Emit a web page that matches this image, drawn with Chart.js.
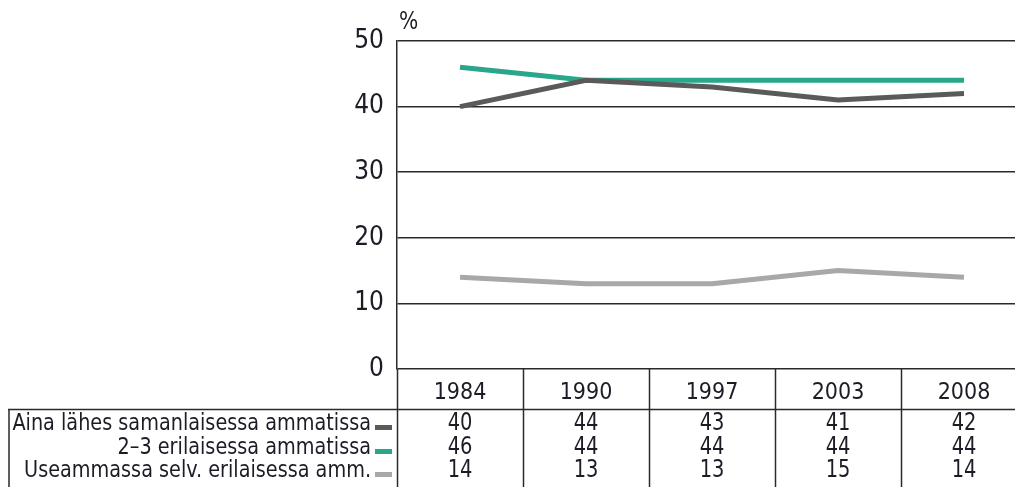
<!DOCTYPE html>
<html>
<head>
<meta charset="utf-8">
<script src="https://cdn.jsdelivr.net/npm/chart.js@4.4.0/dist/chart.umd.min.js"></script>
<style>
    html, body { margin: 0; padding: 0; background: #fff; overflow: hidden; }
    #wrap { width: 1027px; height: 487px; }
</style>
</head>
<body>
<div id="wrap"><canvas id="lineChart" width="1027" height="487"></canvas></div>
<script>
// Data
const years = ['1984', '1990', '1997', '2003', '2008'];
const seriesNames = [
    'Aina lähes samanlaisessa ammatissa',
    '2–3 erilaisessa ammatissa',
    'Useammassa selv. erilaisessa amm.'
];
const sameJob = [40, 44, 43, 41, 42];
const twoThreeJobs = [46, 44, 44, 44, 44];
const manyJobs = [14, 13, 13, 15, 14];
const yTicks = [0, 10, 20, 30, 40, 50];

const colors = {
    same: '#5a5a5a',
    twoThree: '#2aa68b',
    many: '#a8a8a8',
    text: '#1c1c26',
    grid: '#2a2a2a'
};
const fontFamily = '"DejaVu Sans Condensed", "Liberation Sans", sans-serif';

// Narrow text helper (the original uses a condensed face)
function narrowText(c, text, x, y, squeeze) {
    c.save();
    c.translate(x, y);
    c.scale(squeeze, 1);
    c.fillText(text, 0, 0);
    c.restore();
}

// Draws the % label and the data table under the chart
const tablePlugin = {
    id: 'tablePlugin',
    afterDraw(chart) {
        const c = chart.ctx;
        const x = chart.scales.x;
        const area = chart.chartArea;
        const bottom = chart.height;
        const rowLine = 409;
        const rowY = [424, 448, 471];
        const rows = [sameJob, twoThreeJobs, manyJobs];
        const rowColors = [colors.same, colors.twoThree, colors.many];

        c.save();
        c.strokeStyle = colors.grid;
        c.lineWidth = 1.5;

        // column separators
        const bounds = [area.left];
        for (let i = 0; i < years.length - 1; i++) {
            bounds.push((x.getPixelForValue(i) + x.getPixelForValue(i + 1)) / 2);
        }
        bounds.forEach(b => {
            c.beginPath();
            c.moveTo(Math.round(b) + 0.5, area.bottom);
            c.lineTo(Math.round(b) + 0.5, bottom);
            c.stroke();
        });

        // header line and left border
        c.beginPath();
        c.moveTo(8, rowLine + 0.5);
        c.lineTo(chart.width, rowLine + 0.5);
        c.moveTo(9, rowLine);
        c.lineTo(9, bottom);
        c.stroke();

        // values
        c.fillStyle = colors.text;
        c.font = '24px ' + fontFamily;
        c.textAlign = 'center';
        c.textBaseline = 'middle';
        rows.forEach((vals, r) => {
            vals.forEach((v, i) => narrowText(c, String(v), x.getPixelForValue(i), rowY[r], 0.9));
        });

        // row labels with swatches
        c.font = '23px ' + fontFamily;
        c.textAlign = 'right';
        seriesNames.forEach((name, r) => {
            c.fillStyle = colors.text;
            narrowText(c, name, 371, rowY[r], 0.93);
            c.fillStyle = rowColors[r];
            c.fillRect(375, rowY[r] + 1, 17, 5);
        });

        // unit label
        c.fillStyle = colors.text;
        c.font = '25px ' + fontFamily;
        c.textAlign = 'left';
        narrowText(c, '%', 399, 22, 0.9);
        c.restore();
    }
};

const ctx = document.getElementById('lineChart').getContext('2d');
new Chart(ctx, {
    type: 'line',
    data: {
        labels: years,
        datasets: [
            { label: seriesNames[0], data: sameJob, borderColor: colors.same },
            { label: seriesNames[1], data: twoThreeJobs, borderColor: colors.twoThree },
            { label: seriesNames[2], data: manyJobs, borderColor: colors.many }
        ]
    },
    options: {
        responsive: false,
        animation: false,
        layout: { padding: { top: 41, right: 0, left: 0, bottom: 0 } },
        elements: {
            line: { borderWidth: 5, tension: 0, fill: false, borderCapStyle: 'butt' },
            point: { radius: 0 }
        },
        plugins: { legend: { display: false }, tooltip: { enabled: false } },
        scales: {
            x: {
                offset: true,
                grid: { display: false, drawTicks: false },
                border: { display: false },
                ticks: { color: colors.text, font: { family: fontFamily, size: 23 }, padding: 10, maxRotation: 0 },
                afterFit: s => { s.height = 118; }
            },
            y: {
                min: 0,
                max: 50,
                afterBuildTicks: s => { s.ticks = yTicks.map(v => ({ value: v })); },
                grid: { color: colors.grid, lineWidth: 1.5, drawTicks: false },
                border: { display: true, color: colors.grid, width: 1.5 },
                ticks: { color: colors.text, font: { family: fontFamily, size: 26 }, padding: 13 },
                afterFit: s => { s.width = 397; }
            }
        }
    },
    plugins: [tablePlugin]
});
</script>
</body>
</html>
